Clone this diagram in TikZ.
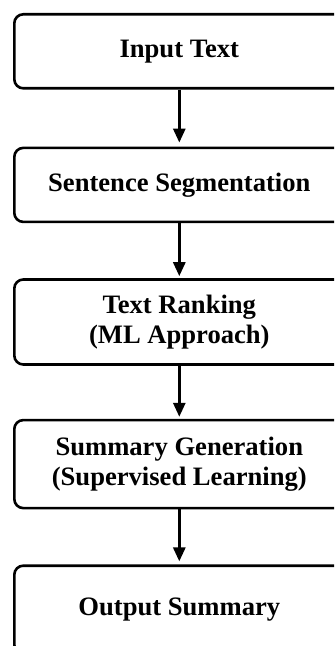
\documentclass[tikz,border=0pt]{standalone}
\usepackage{fontspec}
\setmainfont{Liberation Serif}
\usetikzlibrary{arrows.meta,positioning}
\tikzstyle{block} = [draw, rectangle, rounded corners=4.5pt, minimum width=165pt, align=center, line width=1.3pt, font=\fontsize{13.3}{15.2}\selectfont\bfseries]

\begin{document}
\begin{tikzpicture}[node distance=27.5pt, >={Triangle[length=7pt,width=6pt]}, line width=1.4pt]
  \clip (0,0) rectangle (167pt,-323pt);
  \node [block, minimum height=37pt, anchor=north west] (input) at (6.5pt,-6.5pt) {Input Text};
  \node [block, minimum height=37pt, below=28.5pt of input] (segment) {Sentence Segmentation};
  \node [block, minimum height=42.5pt, below=27.5pt of segment] (rank) {Text Ranking\\(ML Approach)};
  \node [block, minimum height=44pt, below=26.5pt of rank] (summ) {Summary Generation\\(Supervised Learning)};
  \node [block, minimum height=44pt, below=of summ] (output) {Output Summary};

  \draw [->, shorten >=2pt] (input) -- (segment);
  \draw [->, shorten >=1pt] (segment) -- (rank);
  \draw [->, shorten >=1pt] (rank) -- (summ);
  \draw [->, shorten >=1.5pt] (summ) -- (output);
\end{tikzpicture}
\end{document}
